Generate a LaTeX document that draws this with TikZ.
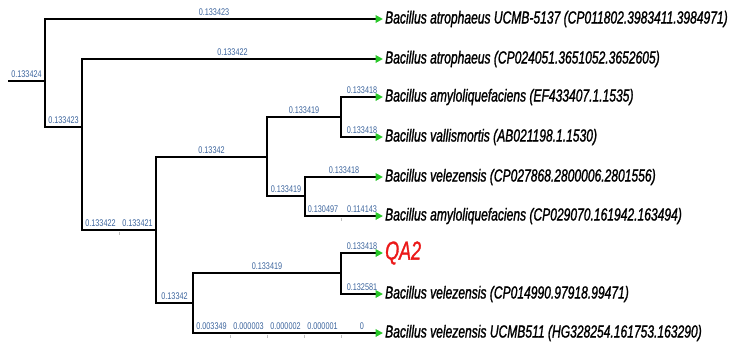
\documentclass[tikz,border=0pt]{standalone}
\usepackage{fontspec}
\setmainfont{Liberation Sans}
\newfontfamily\tipfont[FakeStretch=0.69, FakeBold=1.2]{Liberation Sans}
\newfontfamily\lblfont[FakeStretch=0.75]{Liberation Sans}
\usetikzlibrary{arrows.meta}
\definecolor{lblblue}{RGB}{62,102,158}
\definecolor{tipgreen}{RGB}{40,200,40}
\definecolor{qared}{RGB}{235,25,25}
\begin{document}
\begin{tikzpicture}[x=1pt, y=-1pt, line width=2.4pt,
    branch/.style={draw=black, line join=miter},
    toleaf/.style={-{Triangle[length=7.5pt,width=7.5pt,color=tipgreen]}},
    lbl/.style={anchor=south, inner sep=1pt, yshift=1.5pt, text=lblblue,
      font=\lblfont\fontsize{9.7}{10}\selectfont},
    leaf/.style={anchor=west, inner sep=1pt,
      font=\tipfont\itshape\fontsize{17.5}{20}\selectfont},
    tick/.style={draw=black!25, line width=0.6pt}]
  \useasboundingbox (0,0) rectangle (734,349);
  % inner nodes
  \coordinate (r0) at (8,81);
  \coordinate (n1) at (45,81);
  \coordinate (n2) at (82,127);
  \coordinate (m1) at (119,230);
  \coordinate (n3) at (156,230);
  \coordinate (n4) at (267,157);
  \coordinate (n5) at (193,303);
  \coordinate (n6) at (341,117);
  \coordinate (n7) at (305,196);
  \coordinate (m2) at (341,216);
  \coordinate (n8) at (341,273);
  \coordinate (k1) at (230,333);
  \coordinate (k2) at (267,333);
  \coordinate (k3) at (304,333);
  \coordinate (k4) at (341,333);
  % leaves
  \node[leaf] (t1) at (383,19) {Bacillus atrophaeus UCMB-5137 (CP011802.3983411.3984971)};
  \node[leaf] (t2) at (383,59) {Bacillus atrophaeus (CP024051.3651052.3652605)};
  \node[leaf] (t3) at (383,97) {Bacillus amyloliquefaciens (EF433407.1.1535)};
  \node[leaf] (t4) at (383,137) {Bacillus vallismortis (AB021198.1.1530)};
  \node[leaf] (t5) at (383,177) {Bacillus velezensis (CP027868.2800006.2801556)};
  \node[leaf] (t6) at (383,216) {Bacillus amyloliquefaciens (CP029070.161942.163494)};
  \node[leaf, text=qared, font=\tipfont\itshape\fontsize{26}{28}\selectfont] (t7) at (383,253) {QA2};
  \node[leaf] (t8) at (383,294) {Bacillus velezensis (CP014990.97918.99471)};
  \node[leaf] (t9) at (383,333) {Bacillus velezensis UCMB511 (HG328254.161753.163290)};
  % branches
  \draw[branch] (r0) -- (n1) node[lbl, midway]{0.133424};
  \draw[branch, toleaf] (n1) |- (t1) node[lbl, pos=.75]{0.133423};
  \draw[branch] (n1) |- (n2) node[lbl, pos=.75]{0.133423};
  \draw[branch, toleaf] (n2) |- (t2) node[lbl, pos=.75]{0.133422};
  \draw[branch] (n2) |- (m1) node[lbl, pos=.75]{0.133422}
    -- (n3) node[lbl, midway]{0.133421};
  \draw[branch] (n3) |- (n4) node[lbl, pos=.75]{0.13342};
  \draw[branch] (n3) |- (n5) node[lbl, pos=.75]{0.13342};
  \draw[branch] (n4) |- (n6) node[lbl, pos=.75]{0.133419};
  \draw[branch] (n4) |- (n7) node[lbl, pos=.75]{0.133419};
  \draw[branch, toleaf] (n6) |- (t3) node[lbl, pos=.75]{0.133418};
  \draw[branch, toleaf] (n6) |- (t4) node[lbl, pos=.75]{0.133418};
  \draw[branch, toleaf] (n7) |- (t5) node[lbl, pos=.75]{0.133418};
  \draw[branch, toleaf] (n7) |- (m2) node[lbl, pos=.75]{0.130497}
    -- (t6) node[lbl, midway]{0.114143};
  \draw[branch] (n5) |- (n8) node[lbl, pos=.75]{0.133419};
  \draw[branch, toleaf] (n5) |- (k1) node[lbl, pos=.75]{0.003349}
    -- (k2) node[lbl, midway]{0.000003}
    -- (k3) node[lbl, midway]{0.000002}
    -- (k4) node[lbl, midway]{0.000001}
    -- (t9) node[lbl, midway]{0};
  \draw[branch, toleaf] (n8) |- (t7) node[lbl, pos=.75]{0.133418};
  \draw[branch, toleaf] (n8) |- (t8) node[lbl, pos=.75]{0.132581};
  \foreach \c in {m1,m2,k1,k2,k3,k4}
    \draw[tick] (\c) ++(0,1.5) -- ++(0,3);
\end{tikzpicture}
\end{document}
